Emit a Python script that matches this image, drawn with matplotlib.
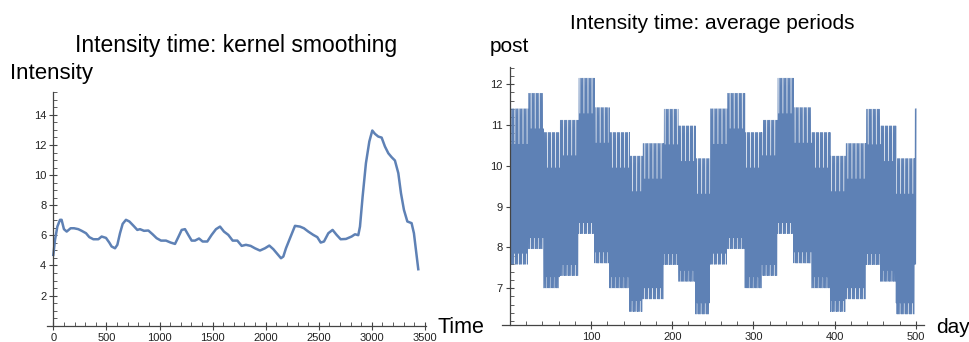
import matplotlib
matplotlib.use("Agg")
import matplotlib.pyplot as plt
from matplotlib.ticker import MultipleLocator
import numpy as np

plt.rcParams['font.family'] = ['Liberation Sans', 'DejaVu Sans']

BLUE = '#5E81B5'
AXIS = '#444444'

# kernel smoothing curve
smooth_t = [0, 16, 38, 63, 78, 100, 126, 163, 195, 235, 267, 308, 339, 377, 424, 455,
            496, 527, 549, 581, 603, 628, 653, 684, 716, 753, 791, 816, 854, 895, 935,
            973, 1014, 1061, 1105, 1146, 1177, 1209, 1240, 1271, 1303, 1334, 1372, 1406,
            1450, 1491, 1532, 1570, 1607, 1648, 1689, 1733, 1774, 1814, 1858, 1899, 1946,
            1993, 2034, 2072, 2109, 2144, 2166, 2191, 2229, 2276, 2323, 2360, 2401, 2448,
            2486, 2518, 2549, 2590, 2630, 2668, 2706, 2756, 2809, 2841, 2872, 2888, 2913,
            2944, 2976, 3004, 3029, 3060, 3092, 3123, 3155, 3186, 3217, 3249, 3274, 3302,
            3334, 3374, 3396, 3415, 3437]
smooth_val = [4.70, 5.70, 6.58, 7.03, 7.03, 6.41, 6.25, 6.47, 6.47, 6.41, 6.30, 6.14, 5.88,
              5.74, 5.74, 5.92, 5.83, 5.52, 5.26, 5.14, 5.37, 6.14, 6.76, 7.03, 6.92, 6.65,
              6.36, 6.41, 6.30, 6.32, 6.07, 5.81, 5.65, 5.65, 5.52, 5.43, 5.88, 6.36, 6.41,
              6.03, 5.65, 5.65, 5.79, 5.59, 5.59, 6.03, 6.41, 6.58, 6.25, 6.03, 5.65, 5.65,
              5.30, 5.37, 5.30, 5.14, 4.99, 5.14, 5.32, 5.08, 4.77, 4.48, 4.59, 5.14, 5.81,
              6.63, 6.58, 6.47, 6.25, 6.03, 5.88, 5.52, 5.59, 6.14, 6.36, 6.03, 5.74, 5.76,
              5.92, 6.07, 6.01, 6.58, 8.58, 10.79, 12.23, 12.96, 12.74, 12.56, 12.49, 11.90,
              11.45, 11.19, 10.97, 10.13, 8.80, 7.69, 6.92, 6.81, 6.14, 5.03, 3.75]

# average periods: monthly level (top of each block), weekday high/low offsets
block_start = [1, 23, 42, 62, 85, 105, 123, 148, 164, 190, 208, 229,
               247, 268, 290, 311, 330, 350, 372, 395, 414, 439, 457, 476, 499]
block_top = [11.40, 11.78, 10.82, 11.12, 12.15, 11.43, 10.82, 10.24, 10.55, 11.39, 10.98, 10.18,
             11.40, 11.78, 10.82, 11.12, 12.15, 11.43, 10.82, 10.24, 10.55, 11.39, 10.98, 10.18,
             11.40]
weekday_high = [-0.87, 0.0, 0.0, 0.0, 0.0]
weekday_low = [-3.54, -3.81, -3.81, -3.81, -3.81]
n_days = 500

days = np.arange(1, n_days + 1)
level = np.array(block_top)[np.searchsorted(block_start, days, side='right') - 1]
wd = (days - 1) % 5
# each day swings from its low to its high value
x_post = np.column_stack([days - 0.25, days + 0.25]).ravel()
y_post = np.column_stack([level + np.array(weekday_low)[wd],
                          level + np.array(weekday_high)[wd]]).ravel()

fig = plt.figure(figsize=(9.7, 3.42), dpi=100)


def style_axes(ax):
    for s in ['top', 'right']:
        ax.spines[s].set_visible(False)
    for s in ['left', 'bottom']:
        ax.spines[s].set_color(AXIS)
        ax.spines[s].set_linewidth(0.9)
    ax.tick_params(which='major', direction='inout', length=6, width=0.8,
                   color=AXIS, labelsize=8, labelcolor='#222222', pad=2)
    ax.tick_params(which='minor', direction='in', length=3, width=0.6, color=AXIS)


# left: kernel smoothing
ax1 = fig.add_axes([0.0484, 0.0477, 0.3908, 0.6825])
ax1.plot(smooth_t, smooth_val, color=BLUE, lw=1.8, solid_joinstyle='round')
ax1.set_xlim(-60, 3510)
ax1.set_ylim(0, 15.5)
ax1.spines['left'].set_position(('data', 0))
ax1.xaxis.set_major_locator(MultipleLocator(500))
ax1.xaxis.set_minor_locator(MultipleLocator(100))
ax1.set_yticks([2, 4, 6, 8, 10, 12, 14])
ax1.yaxis.set_minor_locator(MultipleLocator(0.5))
style_axes(ax1)

# right: average periods
ax2 = fig.add_axes([0.5172, 0.0497, 0.4354, 0.755])
ax2.plot(x_post, y_post, color=BLUE, lw=0.55)
ax2.set_xlim(-10, 510)
ax2.set_ylim(6.1, 12.43)
ax2.spines['left'].set_position(('data', 0))
ax2.set_xticks([100, 200, 300, 400, 500])
ax2.xaxis.set_minor_locator(MultipleLocator(20))
ax2.set_yticks([7, 8, 9, 10, 11, 12])
ax2.yaxis.set_minor_locator(MultipleLocator(0.2))
style_axes(ax2)

fig.text(0.2433, 0.849, 'Intensity time: kernel smoothing', ha='center', va='baseline', fontsize=16.5)
fig.text(0.0103, 0.768, 'Intensity', ha='left', va='baseline', fontsize=16)
fig.text(0.4515, 0.0254, 'Time', ha='left', va='baseline', fontsize=15.5)
fig.text(0.7347, 0.914, 'Intensity time: average periods', ha='center', va='baseline', fontsize=15)
fig.text(0.5052, 0.849, 'post', ha='left', va='baseline', fontsize=15)
fig.text(0.965, 0.0254, 'day', ha='left', va='baseline', fontsize=15)

fig.savefig('out.png', dpi=100)
